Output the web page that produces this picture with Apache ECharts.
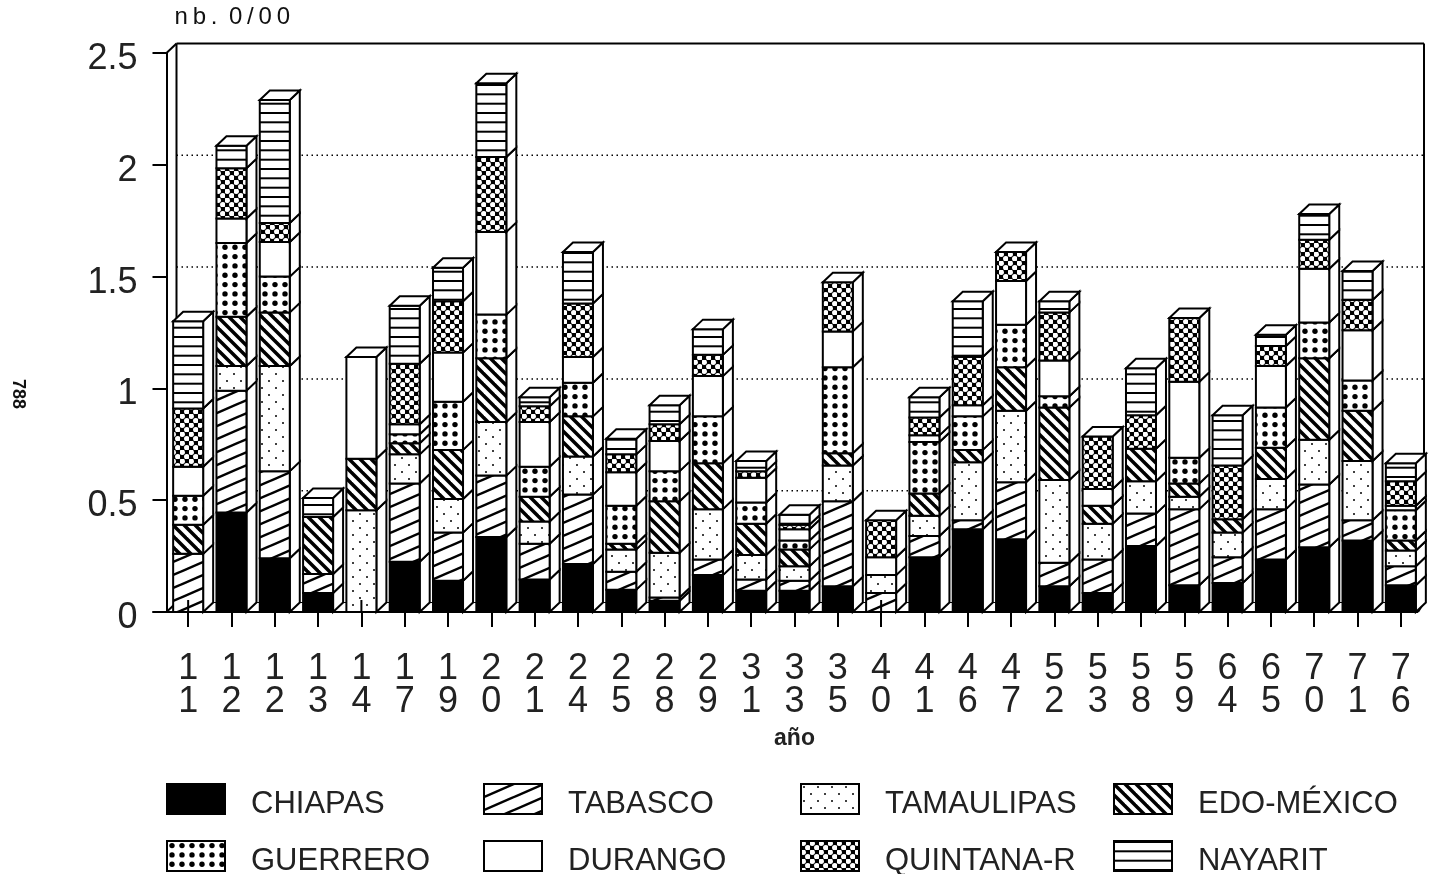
<!DOCTYPE html>
<html><head><meta charset="utf-8">
<style>html,body{margin:0;padding:0;background:#fff}#main{width:1432px;height:874px}</style>
<script src="https://cdn.jsdelivr.net/npm/echarts@6/dist/echarts.min.js"></script>
</head><body><div id="main"></div>
<script>
const years = ['11','12','12','13','14','17','19','20','21','24','25','28','29','31','33','35','40','41','46','47','52','53','58','59','64','65','70','71','76'];
const CHIAPAS    = [0,.445,.24,.085,0,.225,.14,.335,.145,.215,.10,.05,.165,.095,.095,.115,0,.245,.37,.325,.115,.085,.295,.12,.13,.235,.29,.32,.12];
const TABASCO    = [.26,.545,.39,.085,0,.35,.215,.275,.16,.31,.08,.015,.07,.05,.045,.38,.085,.095,.04,.255,.105,.15,.145,.34,.115,.225,.28,.09,.085];
const TAMAULIPAS = [0,.11,.47,0,.455,.13,.15,.24,.10,.17,.10,.20,.225,.11,.065,.16,.08,.09,.26,.32,.37,.16,.145,.055,.11,.135,.20,.265,.07];
const EDOMEXICO  = [.13,.22,.24,.255,.23,.05,.22,.285,.11,.18,.025,.23,.205,.14,.075,.055,0,.10,.055,.195,.325,.08,.145,.06,.06,.14,.365,.225,.045];
const GUERRERO   = [.13,.33,.16,0,0,.04,.215,.195,.135,.15,.17,.135,.21,.095,.04,.385,0,.23,.15,.19,.05,0,0,.115,0,.18,.16,.135,.135];
const DURANGO    = [.13,.11,.155,0,.455,.045,.22,.37,.20,.115,.15,.135,.18,.11,.05,.16,.08,.03,.05,.195,.16,.075,0,.34,0,.185,.24,.225,.02];
const QUINTANA   = [.26,.225,.085,0,0,.27,.23,.335,.07,.24,.08,.075,.095,.03,.02,.22,.165,.08,.215,.13,.215,.235,.15,.285,.24,.09,.13,.135,.11];
const NAYARIT    = [.39,.10,.55,.085,0,.26,.15,.33,.04,.23,.07,.085,.115,.045,.045,0,0,.09,.25,0,.05,0,.21,0,.225,.05,.115,.13,.08];
const stateNames = ['CHIAPAS','TABASCO','TAMAULIPAS','EDO-MÉXICO','GUERRERO','DURANGO','QUINTANA-R','NAYARIT'];
const stateValues = [CHIAPAS,TABASCO,TAMAULIPAS,EDOMEXICO,GUERRERO,DURANGO,QUINTANA,NAYARIT];
const yTicks = [0,.5,1,1.5,2,2.5];

const DX = 10, DY = 9.5, BAR = 30;
function tile(w,h,draw){
  const c=document.createElement('canvas');c.width=w;c.height=h;
  const x=c.getContext('2d');x.fillStyle='#fff';x.fillRect(0,0,w,h);x.fillStyle='#000';x.strokeStyle='#000';draw(x);
  return {image:c,repeat:'repeat'};
}
function dot(x,a,b,r){x.beginPath();x.arc(a,b,r,0,7);x.fill();}
const patterns = [
  '#000',
  tile(30,13,x=>{x.lineWidth=2.5;[-13,0,13].forEach(o=>{x.beginPath();x.moveTo(-30,13+o+13);x.lineTo(60,o-13);x.stroke();});}),
  tile(14,14,x=>{dot(x,3,3,1);dot(x,10,10,1);}),
  tile(11,11,x=>{x.lineWidth=3.5;[-11,0,11].forEach(o=>{x.beginPath();x.moveTo(o-2,-2);x.lineTo(o+13,13);x.stroke();});}),
  tile(10,28,x=>{[4.6,13.9,23.3].forEach(b=>dot(x,5,b,2.7));}),
  '#fff',
  tile(9,9,x=>{x.fillStyle='#000';x.fillRect(0,0,9,9);x.fillStyle='#fff';dot(x,2.25,2.25,2.7);dot(x,6.75,6.75,2.7);}),
  tile(2,28,x=>{x.fillRect(0,0,2,2);x.fillRect(0,9.3,2,2);x.fillRect(0,18.7,2,2);})
];

const LINE={stroke:'#000',lineWidth:2,lineJoin:'miter'};
function poly(points,fill){return {type:'polygon',shape:{points},style:Object.assign({fill},LINE)};}
function barItem(params,api){
  const i=api.value(0), lo=api.value(1), hi=api.value(2), isTop=api.value(3);
  if(hi<=lo) return null;
  const c0=api.coord([i,lo]), c1=api.coord([i,hi]);
  const xl=c0[0]-BAR/2, xr=c0[0]+BAR/2, yb=c0[1], yt=c1[1];
  const kids=[
    poly([[xr,yb],[xr+DX,yb-DY],[xr+DX,yt-DY],[xr,yt]],'#fff'),
    {type:'rect',shape:{x:xl,y:yt,width:BAR,height:yb-yt},style:Object.assign({fill:patterns[params.seriesIndex-1]},LINE)}
  ];
  if(isTop) kids.push(poly([[xl,yt],[xl+DX,yt-DY],[xr+DX,yt-DY],[xr,yt]],'#fff'));
  return {type:'group',children:kids};
}
function frameItem(params,api){
  const cs=params.coordSys, L=cs.x, R=cs.x+cs.width, T=cs.y, B=cs.y+cs.height;
  const seg=(x1,y1,x2,y2,extra)=>({type:'line',shape:{x1,y1,x2,y2},style:Object.assign({stroke:'#000',lineWidth:2},extra||{})});
  const kids=[
    seg(L+DX,T-DY,R+1.5,T-DY), seg(L+DX,T-DY,L+DX,B-DY), seg(R+1.5,T-DY,R+1.5,B-DY),
    seg(L,T,L+DX,T-DY), seg(L,B,L+DX,B-DY), seg(L+DX,B-DY,R+1.5,B-DY,{lineWidth:1}), seg(R-4.5,B,R+1.5,B-DY),
    seg(L-14,B,R-4.5,B)
  ];
  yTicks.slice(1,-1).forEach(v=>{const y=api.coord([0,v])[1]-DY;
    kids.push(seg(L+DX,y,R+1.5,y,{lineWidth:1.5,lineDash:[1.5,3.5]}));});
  return {type:'group',children:kids};
}
function tickItem(params,api){
  const c=api.coord([api.value(0),0]);
  return {type:'line',shape:{x1:c[0],y1:c[1]-12,x2:c[0],y2:c[1]},style:{stroke:'#000',lineWidth:2}};
}
const series=[{type:'custom',name:'frame',coordinateSystem:'cartesian2d',renderItem:frameItem,data:[[0,0]],silent:true,z:1,tooltip:{show:false}}];
stateNames.forEach((name,s)=>{
  const data=years.map((_,i)=>{
    let lo=0; for(let k=0;k<s;k++) lo+=stateValues[k][i];
    const hi=lo+stateValues[s][i];
    let above=0; for(let k=s+1;k<8;k++) above+=stateValues[k][i];
    return [i,+lo.toFixed(4),+hi.toFixed(4),above===0?1:0];
  });
  series.push({type:'custom',name,coordinateSystem:'cartesian2d',renderItem:barItem,data,
    encode:{x:0,y:[1,2]},itemStyle:{color:patterns[s]},z:2,silent:true});
});
series.push({type:'custom',name:'ticks',coordinateSystem:'cartesian2d',renderItem:tickItem,data:years.map((_,i)=>[i,0]),silent:true,z:3});

const FONT='"Liberation Sans",Arial,sans-serif';
const legCols=[166,483,800,1113], legRows=[783,840];
const legend=stateNames.map((name,s)=>({
  left:legCols[s%4], top:legRows[Math.floor(s/4)],
  data:[{name,icon:'rect',itemStyle:{color:patterns[s],borderColor:'#000',borderWidth:2}}],
  itemWidth:58,itemHeight:30,selectedMode:false,padding:0,
  formatter:n=>'{a|'+n+'}',
  textStyle:{fontFamily:FONT,fontSize:31,color:'#222',
    rich:{a:{fontFamily:FONT,fontSize:31,color:'#222',padding:[10,0,0,21]}}}
}));

const chart=echarts.init(document.getElementById('main'),null,{renderer:'canvas'});
chart.setOption({
  animation:false,backgroundColor:'#fff',
  grid:{left:166.5,top:53,width:1256,height:559,containLabel:false},
  legend,
  xAxis:{type:'category',data:years,boundaryGap:true,
    axisLine:{show:false},
    axisTick:{show:true,alignWithLabel:true,length:15,lineStyle:{color:'#000',width:2}},
    axisLabel:{interval:0,margin:41,fontFamily:FONT,fontSize:36,lineHeight:33,color:'#222',
      formatter:v=>v.split('').join('\n')},
    name:'año',nameLocation:'middle',nameGap:115,
    nameTextStyle:{fontFamily:FONT,fontSize:23,fontWeight:'bold',color:'#222'}},
  yAxis:{type:'value',min:0,max:2.5,interval:.5,
    axisLine:{show:true,lineStyle:{color:'#000',width:2}},
    axisTick:{show:true,length:14,lineStyle:{color:'#000',width:2}},
    splitLine:{show:false},
    axisLabel:{margin:29,fontFamily:FONT,fontSize:36,color:'#222',verticalAlign:'top',lineHeight:12},
    name:'n\u2009b\u2009. \u20090\u2009/\u20090\u20090',nameLocation:'end',nameGap:24,
    nameTextStyle:{fontFamily:FONT,fontSize:24,color:'#111',align:'left',padding:[0,0,0,8]}},
  graphic:[{type:'text',x:27,y:379,rotation:-Math.PI/2,
    style:{text:'788',fontFamily:FONT,fontSize:18,fontWeight:'bold',fill:'#111'}}],
  series
});
</script></body></html>
